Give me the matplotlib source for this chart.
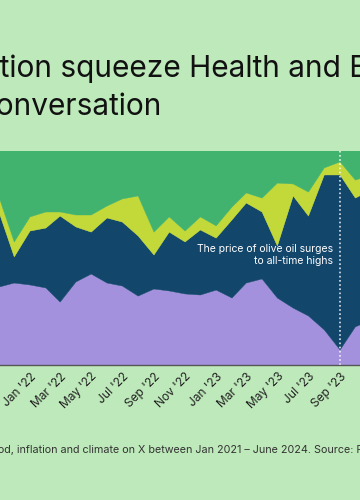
import matplotlib
matplotlib.use('Agg')
import matplotlib.pyplot as plt
import matplotlib.dates as mdates
import pandas as pd

# monthly share of conversation (%)
months = pd.date_range('2021-10-01', '2023-11-01', freq='MS')
health = [35.0, 36.4, 38.3, 37.4, 36.0, 29.4, 38.8, 42.5, 38.3, 36.9, 32.2, 35.5, 34.6,
          33.2, 32.7, 35.0, 31.3, 38.3, 40.2, 31.3, 26.6, 22.9, 16.4, 7.0, 17.8, 21.0]
food = [35.1, 35.1, 12.2, 25.2, 28.0, 40.2, 25.7, 19.6, 30.4, 29.9, 28.1, 15.9, 27.5,
        24.3, 30.4, 24.3, 36.5, 37.4, 31.3, 24.3, 52.4, 46.7, 72.4, 81.8, 60.2, 60.8]
inflation = [4.7, 7.0, 7.0, 6.6, 7.5, 1.9, 5.6, 8.0, 5.6, 10.8, 18.7, 10.7, 7.1,
             5.1, 6.1, 5.7, 6.0, 4.7, 6.5, 29.4, 5.6, 11.2, 3.3, 6.1, 8.4, 7.0]
climate = [25.2, 21.5, 42.5, 30.8, 28.5, 28.5, 29.9, 29.9, 25.7, 22.4, 21.0, 37.9, 30.8,
           37.4, 30.8, 35.0, 26.2, 19.6, 22.0, 15.0, 15.4, 19.2, 7.9, 5.1, 13.6, 11.2]

event_date = pd.Timestamp('2023-09-01')
event_text = "The price of olive oil surges\nto all-time highs"

title_lines = ["Food inflation squeeze Health and Environment", "out of the conversation"]
footnote = ("Share of conversation about health, food, inflation and climate on X "
            "between Jan 2021 \u2013 June 2024. Source: Pulsar")

bg = '#BEE9BA'
colors = ['#A491DE', '#13466B', '#C3D839', '#42B36E']

plt.rcParams['font.family'] = ['Inter', 'DejaVu Sans']

fig = plt.figure(figsize=(3.6, 5.0), dpi=100, facecolor=bg)
ax = fig.add_axes([0.0, 0.27, 1.0, 0.428])
ax.set_facecolor(bg)

ax.stackplot(months, health, food, inflation, climate, colors=colors,
             edgecolor='face', linewidth=0.3)

ax.set_ylim(0, 100)
ax.set_xlim(pd.Timestamp('2021-11-03'), pd.Timestamp('2023-10-10'))

ax.axvline(event_date, color='white', ls=(0, (1, 1.5)), lw=1.2, alpha=0.85)
ax.annotate(event_text, xy=(event_date, 51.2), xytext=(-5, 0), textcoords='offset points',
            ha='right', va='center', multialignment='right', color='white',
            fontsize=7.5, linespacing=1.25)

ax.xaxis.set_major_locator(mdates.MonthLocator(bymonth=[1, 3, 5, 7, 9, 11]))
ax.xaxis.set_major_formatter(mdates.DateFormatter("%b '%y"))
ax.tick_params(axis='x', length=0, pad=4, labelsize=8.6, labelcolor='#222222')
for lbl in ax.get_xticklabels():
    lbl.set_rotation(45)
    lbl.set_ha('right')
    lbl.set_rotation_mode('anchor')
ax.set_yticks([])
for s in ['top', 'left', 'right']:
    ax.spines[s].set_visible(False)
ax.spines['bottom'].set_color('#555555')
ax.spines['bottom'].set_linewidth(1.0)

# text blocks are cut off on the left, so shift them by the width of the hidden part
fig.canvas.draw()
renderer = fig.canvas.get_renderer()


def place_cut(full, hidden, x_px, y_px, **kw):
    probe = fig.text(0, 0, hidden, **kw)
    w = probe.get_window_extent(renderer).width
    probe.remove()
    fig.text((x_px - w) / 360, 1 - y_px / 500, full, va='baseline', **kw)


place_cut(title_lines[0], "Food infla", 0, 77, fontsize=21.5, color='#111111')
place_cut(title_lines[1], "out of the c", -4, 115, fontsize=21.5, color='#111111')
place_cut(footnote, "Share of conversation about health, fo", -2, 453,
          fontsize=7.75, color='#333333')

fig.savefig('out.png', dpi=100, facecolor=bg)
